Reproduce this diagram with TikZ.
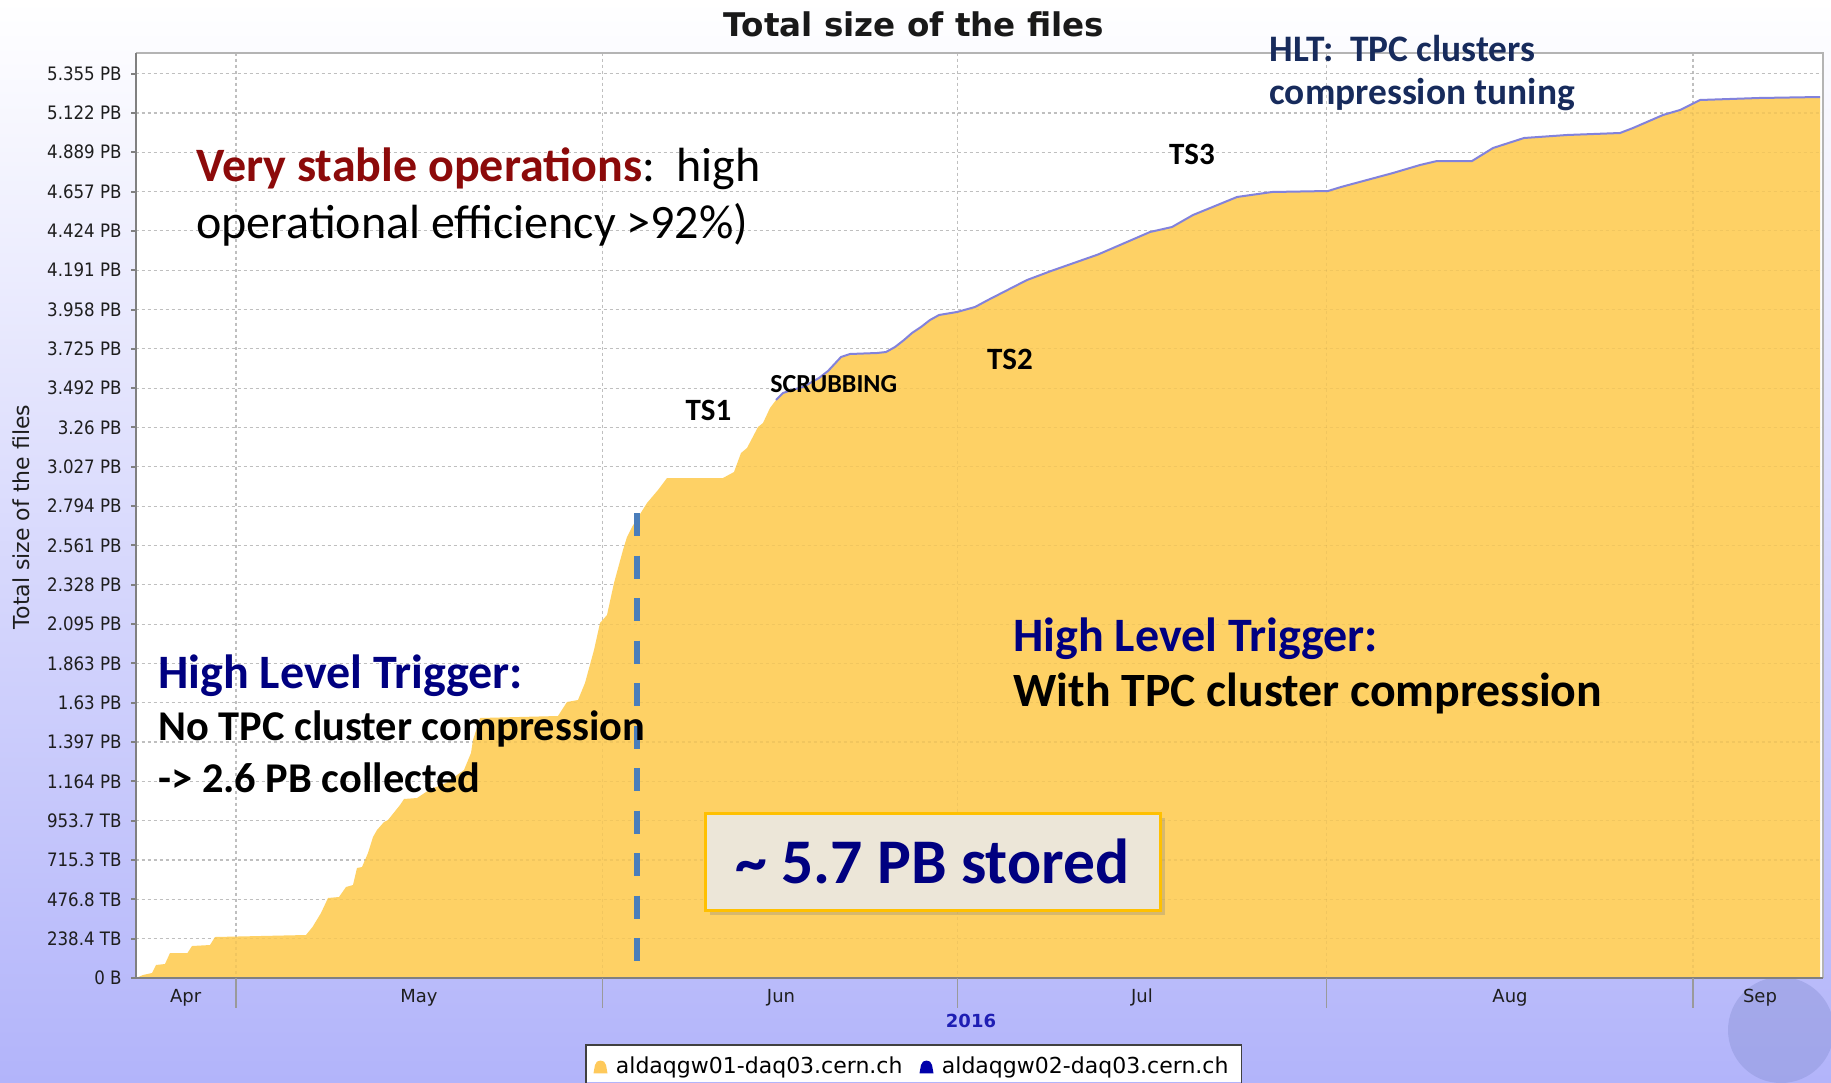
\documentclass[tikz,border=0pt]{standalone}
\usepackage{fontspec}
\setmainfont{Carlito}
\newfontfamily\dvs{DejaVu Sans}
\newfontfamily\dvsc[FakeStretch=0.9]{DejaVu Sans}
\usetikzlibrary{shadows}
\definecolor{bgbot}{RGB}{178,180,250}
\definecolor{areay}{RGB}{254,209,101}
\definecolor{curveln}{RGB}{130,130,220}
\definecolor{axisgray}{RGB}{128,128,128}
\definecolor{framegray}{RGB}{180,180,180}
\definecolor{gridgray}{RGB}{202,202,202}
\definecolor{ticktext}{RGB}{30,30,30}
\definecolor{darkred}{RGB}{140,10,10}
\definecolor{navyhlt}{RGB}{0,0,128}
\definecolor{navytop}{RGB}{23,43,92}
\definecolor{dashblue}{RGB}{74,126,187}
\definecolor{boxfill}{RGB}{236,230,216}
\definecolor{boxedge}{RGB}{255,192,0}
\definecolor{yearblue}{RGB}{30,30,180}
\definecolor{legblue}{RGB}{0,0,170}
\definecolor{globecol}{RGB}{140,148,215}
\definecolor{titlecol}{RGB}{25,25,25}
\begin{document}
\begin{tikzpicture}[x=0.5pt,y=-0.5pt,
  ytick/.style={anchor=east,inner sep=0pt,text=ticktext,font=\dvsc\fontsize{9.25}{10}\selectfont},
  month/.style={anchor=base,inner sep=0pt,text=ticktext,font=\dvs\fontsize{9}{10}\selectfont},
  axisln/.style={draw=axisgray,line width=1pt},
  gridln/.style={draw=gridgray,line width=0.6pt,dash pattern=on 1.5pt off 1.5pt},
  gridover/.style={draw=black,line width=0.6pt,dash pattern=on 1.5pt off 1.5pt,opacity=0.05},
  ann/.style={anchor=base west,inner sep=0pt},
  tslab/.style={inner sep=0pt,font=\bfseries\fontsize{15.5}{18}\selectfont},
  legtext/.style={anchor=base west,inner sep=0pt,font=\dvs\fontsize{11}{12}\selectfont,text=black},
  dashline/.style={draw=dashblue,line width=2.75pt,dash pattern=on 11.65pt off 9.6pt},
]
\useasboundingbox (0,0) rectangle (1831,1082);
\shade[top color=white,bottom color=bgbot] (0,0) rectangle (1831,1082);
% globe
\fill[globecol,opacity=0.45] (1781,1030) circle [radius=53];
% plot area
\fill[white] (135.5,52.5) rectangle (1823,978);
% grid (white region)
\foreach \k in {1,...,23} \draw[gridln] (135.5,{978-\k*39.322}) -- (1823,{978-\k*39.322});
\foreach \mx in {236,602.5,957.5,1326.5,1693} \draw[gridln] (\mx,52.5) -- (\mx,978);
\fill[areay] (135.5,978) -- (136,978) -- (143,975) -- (152,973) -- (156,965) -- (165,964) -- (170,953) -- (187.5,953) -- (192,946) -- (210,945) -- (215,937) -- (306,935) -- (312.5,927) -- (321,913) -- (328,898) -- (339,897) -- (346,887) -- (353,885) -- (357,868) -- (362,867) -- (368,853) -- (373,837) -- (377,830) -- (384,822) -- (388,820) -- (400,805) -- (404,799) -- (417,798) -- (429,790) -- (446,783) -- (464,770) -- (471,753) -- (473,740) -- (480,718) -- (558,716) -- (567,702) -- (578,700) -- (585,683) -- (594,650) -- (600,623) -- (607,615) -- (614,583) -- (623,550) -- (627,537) -- (632,527) -- (647,503) -- (658,490) -- (667,478) -- (723,478) -- (734,472) -- (741,453) -- (747,448) -- (758,427) -- (763,423) -- (770,408) -- (776,400) -- (783,393) -- (792,390) -- (803,387) -- (819,378) -- (828,371) -- (841,357) -- (850,354) -- (877,353) -- (886,352) -- (895,347) -- (904,340) -- (912,333) -- (921,327) -- (930,320) -- (939,315) -- (957,312) -- (975,307) -- (988,300) -- (1027,280) -- (1051,271) -- (1098,254.5) -- (1150,232) -- (1172,227) -- (1193,215) -- (1237,197) -- (1272,192) -- (1328,191) -- (1341,187) -- (1367,180) -- (1393,173) -- (1420,165) -- (1437,161) -- (1472,161) -- (1493,148) -- (1524,138) -- (1567,135) -- (1620,133) -- (1633,128) -- (1663,115) -- (1680,110) -- (1700,100) -- (1759,98) -- (1820,97) -- (1820,978) -- cycle;
% faint grid over the area
\foreach \k in {1,...,23} \draw[gridover] (135.5,{978-\k*39.322}) -- (1823,{978-\k*39.322});
\foreach \mx in {236,602.5,957.5,1326.5,1693} \draw[gridover] (\mx,52.5) -- (\mx,978);
% second series line on top
\draw[curveln,line width=1pt] (776,400) -- (783,393) -- (792,390) -- (803,387) -- (819,378) -- (828,371) -- (841,357) -- (850,354) -- (877,353) -- (886,352) -- (895,347) -- (904,340) -- (912,333) -- (921,327) -- (930,320) -- (939,315) -- (957,312) -- (975,307) -- (988,300) -- (1027,280) -- (1051,271) -- (1098,254.5) -- (1150,232) -- (1172,227) -- (1193,215) -- (1237,197) -- (1272,192) -- (1328,191) -- (1341,187) -- (1367,180) -- (1393,173) -- (1420,165) -- (1437,161) -- (1472,161) -- (1493,148) -- (1524,138) -- (1567,135) -- (1620,133) -- (1633,128) -- (1663,115) -- (1680,110) -- (1700,100) -- (1759,98) -- (1820,97);
% frame
\draw[framegray,line width=1pt] (135.5,52.5) -- (1823,52.5) -- (1823,978);
\draw[axisln] (135.5,52.5) -- (135.5,978) -- (1823,978);
% y ticks
\foreach \t [count=\i from 0] in {0 B,238.4 TB,476.8 TB,715.3 TB,953.7 TB,1.164 PB,1.397 PB,1.63 PB,1.863 PB,2.095 PB,2.328 PB,2.561 PB,2.794 PB,3.027 PB,3.26 PB,3.492 PB,3.725 PB,3.958 PB,4.191 PB,4.424 PB,4.657 PB,4.889 PB,5.122 PB,5.355 PB}{
  \draw[axisln] (131,{978-\i*39.322}) -- (135.5,{978-\i*39.322});
  \node[ytick] (yt\i) at (122,{978-\i*39.322}) {\t};
}
% month ticks
\foreach \mx in {236,602.5,957.5,1326.5,1693} \draw[axisgray!80,line width=0.8pt] (\mx,978) -- (\mx,1008);
\node[month] (mApr) at (185.7,1002.5) {Apr};
\node[month] (mMay) at (419,1002.5) {May};
\node[month] (mJun) at (781,1002.5) {Jun};
\node[month] (mJul) at (1142,1002.5) {Jul};
\node[month] (mAug) at (1510,1002.5) {Aug};
\node[month] (mSep) at (1760,1002.5) {Sep};
\node[anchor=base,inner sep=0pt,text=yearblue,font=\dvs\bfseries\fontsize{9}{10}\selectfont] (year) at (971,1027) {2016};
% axis title and chart title
\node[rotate=90,inner sep=0pt,text=ticktext,font=\dvs\fontsize{11}{12}\selectfont] (ylab) at (21,517) {Total size of the files};
\node[anchor=base,inner sep=0pt,text=titlecol,font=\dvs\bfseries\fontsize{16.3}{18}\selectfont] (title) at (914,36.7) {Total size of the files};
% dashed separator
\coordinate (dtop) at (637,513);
\coordinate (dbot) at (637,963);
\draw[dashline] (dtop) -- (dbot);
% annotations
\node[ann,font=\fontsize{24}{28}\selectfont] (vs1) at (196,181.7) {\textcolor{darkred}{\bfseries Very stable operations}:\ \ high};
\node[ann,font=\fontsize{24}{28}\selectfont] (vs2) at (196,238) {operational efficiency >92\%)};
\node[ann,text=navytop,font=\bfseries\fontsize{18.7}{20}\selectfont] (top1) at (1269,61) {HLT:\ \ TPC clusters};
\node[ann,text=navytop,font=\bfseries\fontsize{18.7}{20}\selectfont] (top2) at (1269,104) {compression tuning};
\node[tslab] (ts1) at (708.5,410) {TS1};
\node[tslab] (ts2) at (1010,359) {TS2};
\node[tslab] (ts3) at (1192,154) {TS3};
\node[inner sep=0pt,font=\bfseries\fontsize{13}{15}\selectfont] (scrub) at (833.7,384.5) {SCRUBBING};
\node[ann,text=navyhlt,font=\bfseries\fontsize{24}{28}\selectfont] (hltL1) at (158,688) {High Level Trigger:};
\node[ann,font=\bfseries\fontsize{21.2}{26}\selectfont] (hltL2) at (158,740) {No TPC cluster compression};
\node[ann,font=\bfseries\fontsize{21.2}{26}\selectfont] (hltL3) at (158,792) {-> 2.6 PB collected};
\node[ann,text=navyhlt,font=\bfseries\fontsize{24}{28}\selectfont] (hltR1) at (1013,651.7) {High Level Trigger:};
\node[ann,font=\bfseries\fontsize{23.9}{28}\selectfont] (hltR2) at (1013,706.7) {With TPC cluster compression};
% stored box
\node[draw=boxedge,line width=1.5pt,fill=boxfill,minimum width=227.5pt,minimum height=48.5pt,inner sep=0pt,
      drop shadow={shadow xshift=2.5pt,shadow yshift=-2.5pt,opacity=0.3},
      text=navyhlt,font=\bfseries\fontsize{31.8}{36}\selectfont] (stored) at (932.5,861.5) {\textasciitilde{} 5.7 PB stored};
% legend
\fill[white] (586,1045) rectangle (1241.5,1082);
\draw[black!75,line width=0.8pt] (586,1083) -- (586,1045) -- (1241.5,1045) -- (1241.5,1083);
\fill[areay!90!orange] (593.5,1073.3) -- (595,1065) .. controls (596,1059) and (605,1059) .. (606,1065) -- (607.5,1073.3) -- cycle;
\fill[legblue] (919.5,1073.3) -- (921,1065) .. controls (922,1059) and (931,1059) .. (932,1065) -- (933.5,1073.3) -- cycle;
\node[legtext] (leg1) at (615.5,1073.5) {aldaqgw01-daq03.cern.ch};
\node[legtext] (leg2) at (941.5,1073.5) {aldaqgw02-daq03.cern.ch};
\end{tikzpicture}
\end{document}
